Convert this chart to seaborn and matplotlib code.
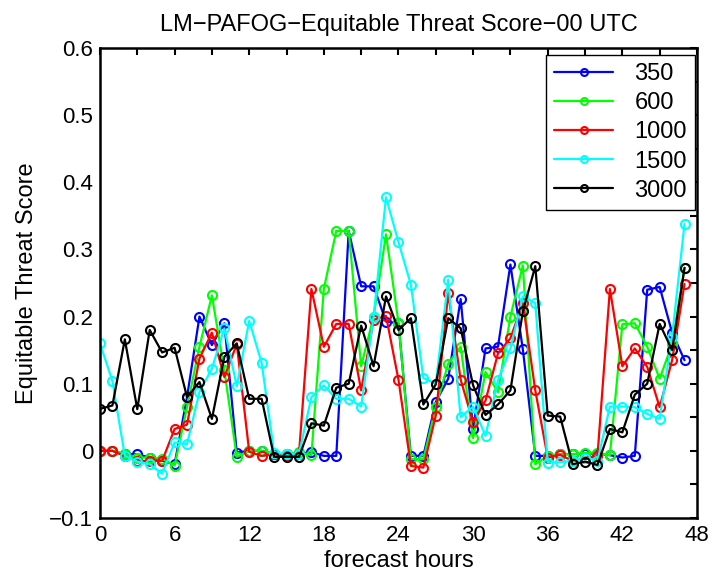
"""
Equitable threat score of LM-PAFOG runs (00 UTC) versus forecast hour.
"""
import matplotlib
matplotlib.use("Agg")
import matplotlib.pyplot as plt
from matplotlib.lines import Line2D
from matplotlib.ticker import MultipleLocator
import numpy as np
import pandas as pd
import seaborn as sns

hours = list(range(48))

ets_350 = [0, 0, -0.005, -0.005, -0.01, -0.015, -0.02, 0.08, 0.2, 0.1575,
           0.19, -0.0025, 0, 0, -0.005, -0.005, -0.005, -0.002, -0.0075, -0.0075,
           0.3275, 0.245, 0.245, 0.1925, 0.19, -0.0075, -0.0075, 0.0725, 0.1075, 0.226,
           0.0325, 0.1525, 0.155, 0.2775, 0.151, -0.0075, -0.0075, -0.005, -0.005, -0.004,
           -0.004, -0.0065, -0.01, -0.0075, 0.24, 0.244, 0.176, 0.135]
ets_600 = [0, 0, -0.005, -0.01, -0.01, -0.012, -0.022, 0.065, 0.155, 0.2315,
           0.12, -0.009, 0, 0, -0.005, -0.005, -0.002, -0.0065, 0.241, 0.3275,
           0.3275, 0.126, 0.2, 0.3225, 0.191, -0.0125, -0.0125, 0.065, 0.13, 0.155,
           0.019, 0.1175, 0.0875, 0.2, 0.276, -0.02, -0.0075, -0.005, -0.005, -0.003,
           -0.0025, -0.0065, 0.1885, 0.19, 0.155, 0.1075, 0.159, 0.2725]
ets_1000 = [0, 0, -0.008, -0.015, -0.015, -0.015, 0.0325, 0.039, 0.1375, 0.176,
            0.11, 0.159, -0.0015, -0.0075, -0.005, -0.008, -0.005, 0.241, 0.155, 0.189,
            0.189, 0.09, 0.195, 0.201, 0.106, -0.0225, -0.025, 0.0525, 0.235, 0.106,
            0.0425, 0.075, 0.145, 0.1675, 0.22, 0.09, -0.01, -0.006, -0.015, -0.01,
            -0.008, 0.241, 0.126, 0.1525, 0.125, 0.065, 0.135, 0.2485]
ets_1500 = [0.16, 0.104, -0.0075, -0.016, -0.02, -0.034, 0.0125, 0.01, 0.0875, 0.1225,
            0.1825, 0.0965, 0.1935, 0.131, -0.0025, -0.005, -0.005, 0.08, 0.0975, 0.0775,
            0.0775, 0.066, 0.2, 0.3775, 0.311, 0.2475, 0.1085, 0.1, 0.255, 0.05,
            0.066, 0.0225, 0.105, 0.1525, 0.23, 0.22, -0.0175, -0.017, -0.015, -0.01,
            -0.015, 0.066, 0.066, 0.065, 0.055, 0.0475, 0.17, 0.338]
ets_3000 = [0.0625, 0.0675, 0.166, 0.062, 0.18, 0.1465, 0.1535, 0.08, 0.1025, 0.0475,
            0.14, 0.16, 0.0775, 0.0775, -0.009, -0.009, -0.009, 0.041, 0.0375, 0.094,
            0.1, 0.1865, 0.126, 0.23, 0.18, 0.1975, 0.069, 0.099, 0.1975, 0.1825,
            0.0975, 0.0535, 0.069, 0.09, 0.2075, 0.275, 0.0525, 0.051, -0.02, -0.016,
            -0.021, 0.0325, 0.0275, 0.0835, 0.1, 0.189, 0.15, 0.2725]

labels = ["350", "600", "1000", "1500", "3000"]
colors = ["#0000ff", "#00ff00", "#ff0000", "#00ffff", "#000000"]

df = pd.concat([
    pd.DataFrame({"hour": hours, "ets": vals, "run": lab})
    for lab, vals in zip(labels, [ets_350, ets_600, ets_1000, ets_1500, ets_3000])
])

sns.set_style("white")
plt.rcParams["font.family"] = ["Liberation Sans", "DejaVu Sans"]
plt.rcParams["text.color"] = "black"
plt.rcParams["axes.labelcolor"] = "black"
plt.rcParams["xtick.color"] = "black"
plt.rcParams["ytick.color"] = "black"

fig = plt.figure(figsize=(7.12, 5.77), dpi=100)
ax = fig.add_axes([0.1404, 0.1023, 0.8385, 0.8146])

sns.lineplot(data=df, x="hour", y="ets", hue="run", hue_order=labels,
             palette=colors, marker="o", linewidth=1.6, ax=ax, legend=False)

# hollow circle markers, edge in the line colour
for line in ax.lines:
    c = line.get_color()
    line.set_markerfacecolor("none")
    line.set_markeredgecolor(c)
    line.set_markeredgewidth(1.5)
    line.set_markersize(6.5)

ax.set_xlim(0, 48)
ax.set_ylim(-0.1, 0.6)
ax.set_xticks(np.arange(0, 49, 6))
ax.set_yticks(np.round(np.arange(-0.1, 0.61, 0.1), 1))
ax.set_yticklabels(["\u22120.1", "0", "0.1", "0.2", "0.3", "0.4", "0.5", "0.6"])
ax.xaxis.set_minor_locator(MultipleLocator(3))
ax.yaxis.set_minor_locator(MultipleLocator(0.05))
ax.tick_params(which="both", direction="in", length=5, width=1.5,
               top=True, right=True, labelsize=16, pad=5,
               color="black", labelcolor="black")
for sp in ax.spines.values():
    sp.set_visible(True)
    sp.set_color("black")
    sp.set_linewidth(1.8)

ax.set_xlabel("forecast hours", fontsize=17, labelpad=3, color="black")
ax.set_ylabel("Equitable Threat Score", fontsize=17, labelpad=8, color="black")
ax.set_title("LM\u2212PAFOG\u2212Equitable Threat Score\u221200 UTC", fontsize=17,
             pad=12, color="black")

handles = [Line2D([0], [0], color=c, linewidth=1.6, marker="o", markersize=5,
                  markerfacecolor="none", markeredgecolor=c, markeredgewidth=1.5)
           for c in colors]
leg = ax.legend(handles, labels, loc="upper right", bbox_to_anchor=(0.997, 0.985),
                fontsize=17, frameon=True, fancybox=False, edgecolor="black",
                framealpha=1, borderaxespad=0, handlelength=2.5, labelspacing=0.3,
                borderpad=0.35, handletextpad=0.9)
leg.get_frame().set_linewidth(1.0)
for t in leg.get_texts():
    t.set_color("black")

fig.savefig("out.png", dpi=100)
